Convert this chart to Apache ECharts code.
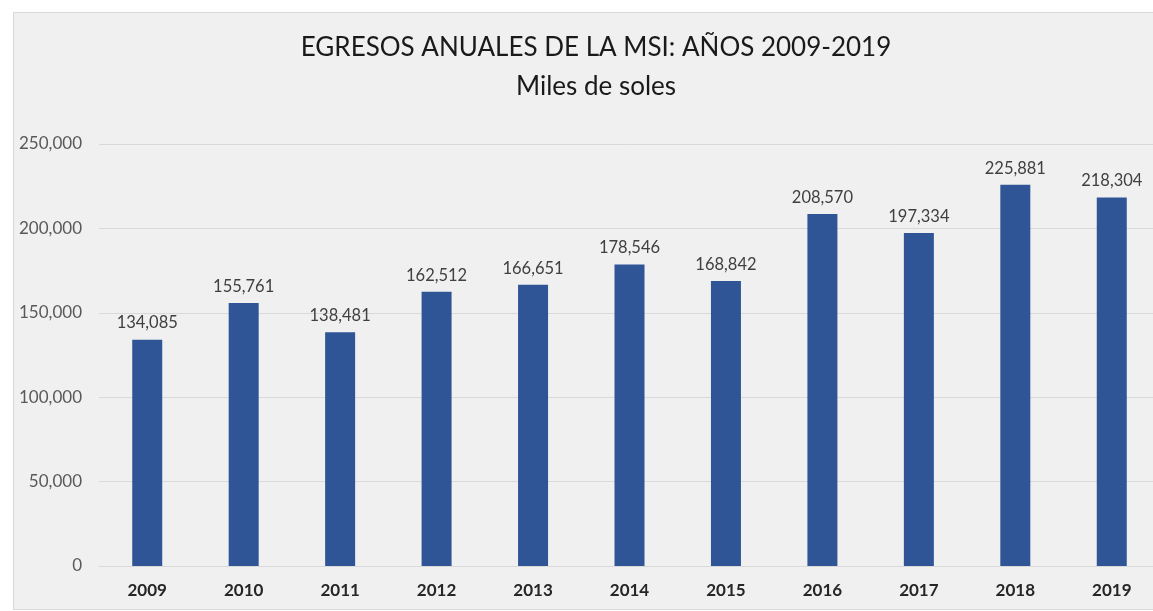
<!DOCTYPE html>
<html lang="es">
<head>
    <meta charset="UTF-8">
    <title>Egresos anuales MSI</title>
    <script src="https://cdn.jsdelivr.net/npm/echarts@6/dist/echarts.min.js"></script>
</head>
<style>
    *{
        margin: 0;
        padding: 0;
    }
    html , body{
        width: 100%;
        height: 100%;
        overflow: hidden;
        background: #ffffff;
    }
    .container{
        position: absolute;
        left: 13px;
        top: 12px;
        width: 1170px;
        height: 596px;
        border: 1px solid #d9d9d9;
        background: #f0f0f0;
    }
</style>
<body>
<div class="container"></div>
<script>
    let years=['2009','2010','2011','2012','2013','2014','2015','2016','2017','2018','2019'];
    let egresos=[134085,155761,138481,162512,166651,178546,168842,208570,197334,225881,218304];
    let yTicks={min:0,max:250000,interval:50000};

    let fmt=v=>v.toLocaleString('en-US');
    let font='Lato';

    let mycharts=echarts.init(document.querySelector('.container'));
    let option={
        title:{
            text:'EGRESOS ANUALES DE LA MSI: AÑOS 2009-2019\nMiles de soles',
            left:577,
            textAlign:'center',
            top:10,
            textStyle:{
                fontFamily:font,
                fontWeight:'normal',
                fontSize:26,
                lineHeight:39,
                color:'#1a1a1a'
            }
        },
        grid:{
            left:85,
            right:24,
            top:131,
            height:422
        },
        xAxis:{
            type:'category',
            data:years,
            axisTick:{show:false},
            axisLine:{lineStyle:{color:'#d9d9d9'}},
            axisLabel:{
                margin:16,
                fontFamily:font,
                fontWeight:'bold',
                fontSize:17,
                color:'#262626'
            }
        },
        yAxis:{
            type:'value',
            min:yTicks.min,
            max:yTicks.max,
            interval:yTicks.interval,
            splitLine:{lineStyle:{color:'#d9d9d9'}},
            axisLabel:{
                margin:17,
                fontFamily:font,
                fontSize:17,
                color:'#595959',
                formatter:fmt
            }
        },
        series:[{
            type:'bar',
            data:egresos,
            barWidth:30,
            itemStyle:{color:'#2f5597'},
            label:{
                show:true,
                position:'top',
                distance:8,
                fontFamily:font,
                fontSize:16.5,
                color:'#404040',
                formatter:p=>fmt(p.value)
            }
        }]
    };
    mycharts.setOption(option);
</script>
</body>
</html>
